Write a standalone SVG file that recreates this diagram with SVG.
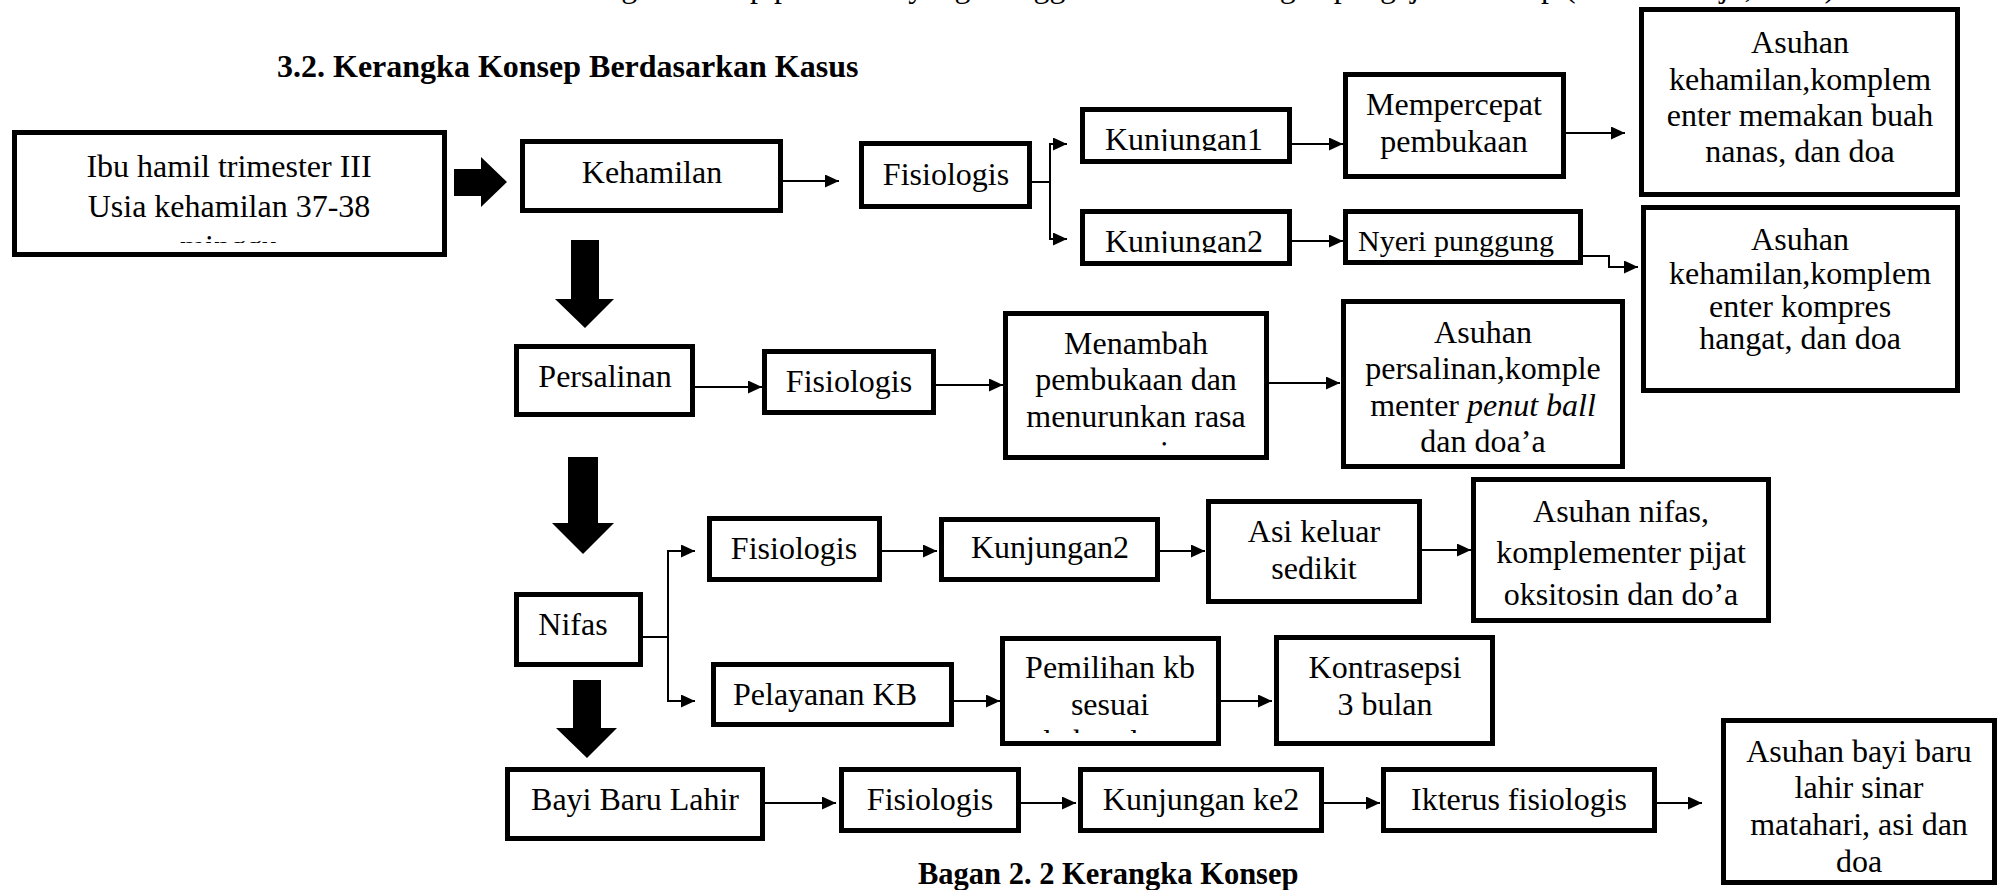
<svg xmlns="http://www.w3.org/2000/svg" width="2005" height="890" viewBox="0 0 2005 890">
<style>
.box{fill:#fff;stroke:#000;stroke-width:5}
.t{font-family:"Liberation Serif","Times New Roman",serif;font-size:32px;text-anchor:middle;fill:#000}
.s{font-size:30px}
.h{font-family:"Liberation Serif","Times New Roman",serif;font-size:32px;font-weight:bold;fill:#000}
.c{fill:none;stroke:#000;stroke-width:2}
.a{marker-end:url(#ah)}
.fat{fill:#000}
</style>
<defs>
<marker id="ah" markerUnits="userSpaceOnUse" markerWidth="14" markerHeight="13" refX="14" refY="6.5" viewBox="0 0 14 13" orient="auto"><path d="M0,0 L14,6.5 L0,13 z" fill="#000"/></marker>
<clipPath id="cIbu"><rect x="0" y="0" width="2005" height="243"/></clipPath>
<clipPath id="cK1"><rect x="0" y="0" width="2005" height="151"/></clipPath>
<clipPath id="cK2"><rect x="0" y="0" width="2005" height="253"/></clipPath>
<clipPath id="cMen"><rect x="0" y="0" width="2005" height="447"/></clipPath>
<clipPath id="cPem"><rect x="0" y="0" width="2005" height="733"/></clipPath>
</defs>
<rect width="2005" height="890" fill="#fff"/>

<text class="t" x="543" y="-3" style="text-anchor:start">Kerangka konsep penelitian yang menggambarkan hubungan pengajian konsep (Notoatmodjo, 2018)</text>
<text class="h" x="277" y="77">3.2. Kerangka Konsep Berdasarkan Kasus</text>
<text class="h" x="918" y="884" style="font-size:30.5px">Bagan 2. 2 Kerangka Konsep</text>

<g id="connectors">
<path class="c a" d="M783,181 H839"/>
<path class="c" d="M1032,182 H1050 M1050,143 V240"/>
<path class="c a" d="M1050,144 H1067"/>
<path class="c a" d="M1050,239 H1067"/>
<path class="c a" d="M1292,144 H1343"/>
<path class="c a" d="M1566,133 H1625"/>
<path class="c a" d="M1292,241 H1343"/>
<path class="c a" d="M1583,256 H1609 V267 H1638"/>
<path class="c a" d="M695,387 H762"/>
<path class="c a" d="M936,385 H1003"/>
<path class="c a" d="M1269,383 H1340"/>
<path class="c" d="M643,637 H668 M668,550 V702"/>
<path class="c a" d="M668,551 H695"/>
<path class="c a" d="M668,701 H695"/>
<path class="c a" d="M882,551 H937"/>
<path class="c a" d="M1160,551 H1205"/>
<path class="c a" d="M1422,550 H1471"/>
<path class="c a" d="M954,701 H1000"/>
<path class="c a" d="M1221,701 H1272"/>
<path class="c a" d="M765,803 H836"/>
<path class="c a" d="M1021,803 H1076"/>
<path class="c a" d="M1324,803 H1380"/>
<path class="c a" d="M1657,803 H1702"/>
<polygon class="fat" points="454,169 481,169 481,157 507,182 481,207 481,196 454,196"/>
<polygon class="fat" points="571,240 599,240 599,299 614,299 585,328 555,299 571,299"/>
<polygon class="fat" points="568,457 598,457 598,523 614,523 583,554 552,523 568,523"/>
<polygon class="fat" points="573,680 601,680 601,728 617,728 587,758 556,728 573,728"/>
</g>

<g id="ibu"><rect class="box" x="14.5" y="132.5" width="430" height="122"/>
<g clip-path="url(#cIbu)"><text class="t" x="229" y="177">Ibu hamil trimester III</text><text class="t" x="229" y="217">Usia kehamilan 37-38</text><text class="t" x="229" y="257">minggu</text></g></g>

<g id="kehamilan"><rect class="box" x="522.5" y="141.5" width="258" height="69"/><text class="t" x="652" y="183">Kehamilan</text></g>
<g id="fisiologis1"><rect class="box" x="861.5" y="143.5" width="168" height="63"/><text class="t" x="946" y="185">Fisiologis</text></g>
<g id="kunjungan1"><rect class="box" x="1082.5" y="109.5" width="207" height="52"/><text class="t" x="1184" y="150" clip-path="url(#cK1)">Kunjungan1</text></g>
<g id="kunjungan2"><rect class="box" x="1082.5" y="211.5" width="207" height="52"/><text class="t" x="1184" y="252" clip-path="url(#cK2)">Kunjungan2</text></g>
<g id="mempercepat"><rect class="box" x="1345.5" y="74.5" width="218" height="102"/><text class="t" x="1454" y="115">Mempercepat</text><text class="t" x="1454" y="152">pembukaan</text></g>
<g id="nyeri"><rect class="box" x="1345.5" y="211.5" width="235" height="51"/><text class="t s" x="1456" y="251">Nyeri punggung</text></g>
<g id="asuhan1"><rect class="box" x="1641.5" y="9.5" width="316" height="185"/>
<text class="t" x="1800" y="53">Asuhan</text><text class="t" x="1800" y="90">kehamilan,komplem</text><text class="t" x="1800" y="126">enter memakan buah</text><text class="t" x="1800" y="162">nanas, dan doa</text></g>
<g id="asuhan2"><rect class="box" x="1643.5" y="207.5" width="314" height="183"/>
<text class="t" x="1800" y="250">Asuhan</text><text class="t" x="1800" y="284">kehamilan,komplem</text><text class="t" x="1800" y="317">enter kompres</text><text class="t" x="1800" y="349">hangat, dan doa</text></g>

<g id="persalinan"><rect class="box" x="516.5" y="346.5" width="176" height="68"/><text class="t" x="605" y="387">Persalinan</text></g>
<g id="fisiologis2"><rect class="box" x="764.5" y="351.5" width="169" height="61"/><text class="t" x="849" y="392">Fisiologis</text></g>
<g id="menambah"><rect class="box" x="1005.5" y="313.5" width="261" height="144"/>
<g clip-path="url(#cMen)"><text class="t" x="1136" y="354">Menambah</text><text class="t" x="1136" y="390">pembukaan dan</text><text class="t" x="1136" y="427">menurunkan rasa</text><text class="t" x="1136" y="463">nyeri</text></g></g>
<g id="asuhanPersalinan"><rect class="box" x="1343.5" y="301.5" width="279" height="165"/>
<text class="t" x="1483" y="343">Asuhan</text><text class="t" x="1483" y="379">persalinan,komple</text><text class="t" x="1483" y="416">menter <tspan font-style="italic">penut ball</tspan></text><text class="t" x="1483" y="452">dan doa’a</text></g>

<g id="fisiologis3"><rect class="box" x="709.5" y="518.5" width="170" height="61"/><text class="t" x="794" y="559">Fisiologis</text></g>
<g id="kunjungan2b"><rect class="box" x="941.5" y="519.5" width="216" height="60"/><text class="t" x="1050" y="558">Kunjungan2</text></g>
<g id="asi"><rect class="box" x="1208.5" y="501.5" width="211" height="100"/><text class="t" x="1314" y="542">Asi keluar</text><text class="t" x="1314" y="579">sedikit</text></g>
<g id="asuhanNifas"><rect class="box" x="1473.5" y="479.5" width="295" height="141"/>
<text class="t" x="1621" y="522">Asuhan nifas,</text><text class="t" x="1621" y="563">komplementer pijat</text><text class="t" x="1621" y="605">oksitosin dan do’a</text></g>
<g id="nifas"><rect class="box" x="516.5" y="594.5" width="124" height="70"/><text class="t" x="573" y="635">Nifas</text></g>
<g id="pelayanan"><rect class="box" x="713.5" y="664.5" width="238" height="60"/><text class="t" x="825" y="705">Pelayanan KB</text></g>
<g id="pemilihan"><rect class="box" x="1002.5" y="638.5" width="216" height="105"/>
<g clip-path="url(#cPem)"><text class="t" x="1110" y="678">Pemilihan kb</text><text class="t" x="1110" y="715">sesuai</text><text class="t" x="1110" y="752">kebutuhan</text></g></g>
<g id="kontrasepsi"><rect class="box" x="1276.5" y="637.5" width="216" height="106"/><text class="t" x="1385" y="678">Kontrasepsi</text><text class="t" x="1385" y="715">3 bulan</text></g>

<g id="bayi"><rect class="box" x="507.5" y="769.5" width="255" height="69"/><text class="t" x="635" y="810">Bayi Baru Lahir</text></g>
<g id="fisiologis4"><rect class="box" x="841.5" y="769.5" width="177" height="61"/><text class="t" x="930" y="810">Fisiologis</text></g>
<g id="kunjunganKe2"><rect class="box" x="1080.5" y="769.5" width="241" height="61"/><text class="t" x="1201" y="810">Kunjungan ke2</text></g>
<g id="ikterus"><rect class="box" x="1383.5" y="769.5" width="271" height="61"/><text class="t" x="1519" y="810">Ikterus fisiologis</text></g>
<g id="asuhanBayi"><rect class="box" x="1723.5" y="720.5" width="271" height="162"/>
<text class="t" x="1859" y="762">Asuhan bayi baru</text><text class="t" x="1859" y="798">lahir sinar</text><text class="t" x="1859" y="835">matahari, asi dan</text><text class="t" x="1859" y="872">doa</text></g>
</svg>
